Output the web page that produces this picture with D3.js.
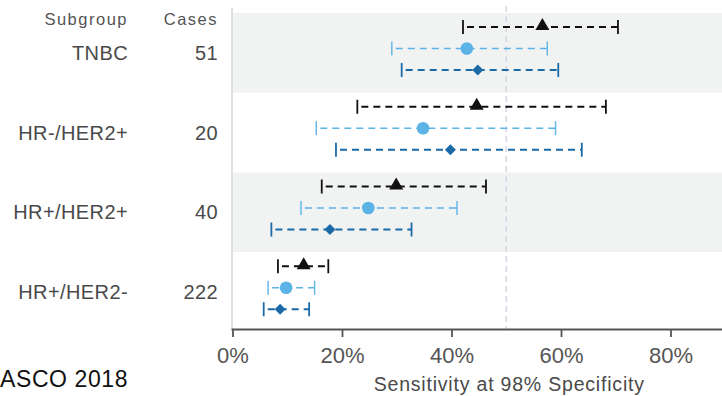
<!DOCTYPE html>
<html>
<head>
<meta charset="utf-8">
<script src="https://cdn.jsdelivr.net/npm/d3@7"></script>
<style>
  html, body { margin: 0; padding: 0; background: #fff; }
  svg { display: block; }
  text { font-family: "Liberation Sans", Arial, sans-serif; }
</style>
</head>
<body>
<svg id="chart" width="722" height="396"></svg>
<script>
// Subgroups and their case counts
const subgroups = ["TNBC", "HR-/HER2+", "HR+/HER2+", "HR+/HER2-"];
const cases = [51, 20, 40, 222];

// Three estimates per subgroup: point value with lower / upper interval bounds (%)
const seriesNames = ["black", "light", "dark"];
const pointVals = [
  [56.6, 42.8, 44.8],
  [44.6, 34.8, 39.8],
  [29.9, 24.8, 17.8],
  [13.0, 9.8, 8.7]
];
const lowerVals = [
  [42.1, 29.1, 30.9],
  [22.8, 15.3, 18.9],
  [16.3, 12.5, 7.1],
  [8.3, 6.5, 5.7]
];
const upperVals = [
  [70.4, 57.5, 59.5],
  [68.2, 59.0, 63.8],
  [46.3, 41.0, 32.7],
  [17.5, 15.0, 14.0]
];

const xTicks = [0, 20, 40, 60, 80];
const refLine = 50;
const axisTitle = "Sensitivity at 98% Specificity";
const footnote = "ASCO 2018";

const svg = d3.select("#chart");
const W = 722, H = 396;

const x = d3.scaleLinear().domain([0, 100]).range([232.5, 780]);
const plotTop = 12, plotBottom = 329;
const band = d3.scaleBand().domain(subgroups).range([plotTop + 1, plotBottom + 3]).padding(0);
const slot = d3.scalePoint().domain(seriesNames).range([14, 57]);

const colors = { black: "#111111", light: "#5bb3e6", dark: "#1b6aa8" };
const textColor = "#4a4a4a";

// Alternating row bands
svg.append("g").selectAll("rect").data(subgroups).join("rect")
  .attr("x", x(0))
  .attr("y", d => band(d))
  .attr("width", W - x(0))
  .attr("height", band.bandwidth())
  .attr("fill", (d, i) => i % 2 === 0 ? "#f1f2f2" : "#ffffff");

// Left plot border
svg.append("line")
  .attr("x1", x(0) - 0.5).attr("x2", x(0) - 0.5)
  .attr("y1", 8).attr("y2", plotBottom)
  .attr("stroke", "#d4d4d4").attr("stroke-width", 1.5);

// Reference line at 50%
svg.append("line")
  .attr("x1", x(refLine)).attr("x2", x(refLine))
  .attr("y1", 6).attr("y2", plotBottom)
  .attr("stroke", "#d6d4e6").attr("stroke-width", 1.5)
  .attr("stroke-dasharray", "6,4");

// Error bars and markers
const rows = [];
subgroups.forEach((g, i) => {
  seriesNames.forEach((s, j) => {
    rows.push({ g, s, v: pointVals[i][j], lo: lowerVals[i][j], hi: upperVals[i][j] });
  });
});

const gBars = svg.append("g");
const yOf = d => band(d.g) + slot(d.s);

gBars.selectAll("line.ci").data(rows).join("line")
  .attr("class", "ci")
  .attr("x1", d => x(d.lo)).attr("x2", d => x(d.hi))
  .attr("y1", yOf).attr("y2", yOf)
  .attr("stroke", d => colors[d.s])
  .attr("stroke-width", d => d.s === "light" ? 1.6 : 1.8)
  .attr("stroke-dasharray", "7,5")
  .attr("stroke-dashoffset", -4);

["lo", "hi"].forEach(k => {
  gBars.selectAll("line.cap-" + k).data(rows).join("line")
    .attr("class", "cap-" + k)
    .attr("x1", d => x(d[k])).attr("x2", d => x(d[k]))
    .attr("y1", d => yOf(d) - 7).attr("y2", d => yOf(d) + 7)
    .attr("stroke", d => colors[d.s])
    .attr("stroke-width", d => d.s === "light" ? 1.4 : 1.8);
});

// Triangle, circle, and a square turned 45 degrees for the diamond
const symbolFor = { black: d3.symbolTriangle, light: d3.symbolCircle, dark: d3.symbolSquare };
const sizeFor = { black: 85, light: 125, dark: 60 };
gBars.selectAll("path.pt").data(rows).join("path")
  .attr("class", "pt")
  .attr("transform", d => `translate(${x(d.v)},${yOf(d) + (d.s === "black" ? -1 : 0)})` +
    (d.s === "dark" ? " rotate(45)" : ""))
  .attr("d", d => d3.symbol(symbolFor[d.s], sizeFor[d.s])())
  .attr("fill", d => colors[d.s]);

// X axis
const xAxis = d3.axisBottom(x)
  .tickValues(xTicks)
  .tickFormat(d => d + "%")
  .tickSize(8)
  .tickPadding(10);
const ax = svg.append("g")
  .attr("transform", `translate(0,${plotBottom})`)
  .call(xAxis);
ax.select(".domain").remove();
ax.append("line")
  .attr("x1", x(0) - 1).attr("x2", W)
  .attr("y1", 0.5).attr("y2", 0.5)
  .attr("stroke", "#555").attr("stroke-width", 1.8);
ax.selectAll(".tick line").attr("stroke", "#555").attr("stroke-width", 1.8);
ax.selectAll(".tick text")
  .attr("fill", "#555")
  .style("font-size", "22px");

svg.append("text")
  .attr("x", x(50) + 3).attr("y", 391)
  .attr("text-anchor", "middle")
  .attr("fill", textColor)
  .style("font-size", "19.5px")
  .style("letter-spacing", "0.8px")
  .text(axisTitle);

// Table headers and row labels
svg.append("text")
  .attr("x", 128).attr("y", 25)
  .attr("text-anchor", "end")
  .attr("fill", "#555")
  .style("font-size", "16.5px")
  .style("letter-spacing", "1.5px")
  .text("Subgroup");
svg.append("text")
  .attr("x", 218).attr("y", 25)
  .attr("text-anchor", "end")
  .attr("fill", "#555")
  .style("font-size", "16.5px")
  .style("letter-spacing", "1.5px")
  .text("Cases");

svg.append("g").selectAll("text").data(subgroups).join("text")
  .attr("x", 128)
  .attr("y", d => band(d) + band.bandwidth() / 2 + 7)
  .attr("text-anchor", "end")
  .attr("fill", textColor)
  .style("font-size", "20px")
  .style("letter-spacing", "0.4px")
  .text(d => d);

svg.append("g").selectAll("text").data(cases).join("text")
  .attr("x", 218)
  .attr("y", (d, i) => band(subgroups[i]) + band.bandwidth() / 2 + 7)
  .attr("text-anchor", "end")
  .attr("fill", textColor)
  .style("font-size", "20px")
  .style("letter-spacing", "0.4px")
  .text(d => d);

svg.append("text")
  .attr("x", 0).attr("y", 387)
  .attr("fill", "#111")
  .style("font-size", "23px")
  .style("letter-spacing", "0.6px")
  .text(footnote);
</script>
</body>
</html>
